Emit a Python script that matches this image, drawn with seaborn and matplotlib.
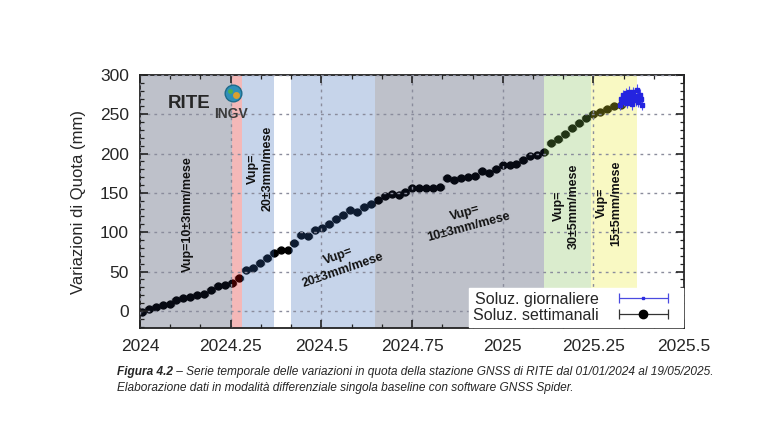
import numpy as np
import matplotlib
matplotlib.use("Agg")
import matplotlib.pyplot as plt
from matplotlib.legend_handler import HandlerErrorbar
from matplotlib.container import ErrorbarContainer
import seaborn as sns

# --- data ---
# weekly solutions (mm), one value per week starting in the first week of 2024
weekly_start = 2024.005
weekly_step = 7 / 366
weekly_vals = [-1, 2.5, 5, 7.5, 9, 14, 16, 18, 20, 22, 27, 31, 33, 36, 42,
               52, 54, 61, 67, 73, 77, 78, 86, 97, 95, 103, 105, 110, 117,
               122, 128, 126, 132, 136, 141, 146, 148, 147, 151, 156, 156,
               156, 156, 157, 169, 166, 169, 170, 172, 178, 175, 180, 185,
               185, 187, 192, 197, 198, 202, 213, 219, 225, 232, 239, 245,
               251, 253, 257, 261, 262, 267]
weekly_err_x = 0.011

# daily solutions (mm), last weeks of the series
daily_start = 2025.324
daily_step = 1 / 365
daily_vals = [262, 270, 266, 274, 268, 272, 277, 265, 271, 279, 269, 274,
              263, 278, 270, 273, 268, 281, 266, 272, 275, 270, 262]
daily_err_x = 0.006
daily_err_y = 7

# periods with constant rate
periods = [(2024.0, 2024.255), (2024.255, 2024.28), (2024.28, 2024.37),
           (2024.415, 2024.648), (2024.648, 2025.115), (2025.115, 2025.242),
           (2025.242, 2025.37)]
period_colors = ["#172142", "#db0000", "#3365b4", "#3365b4", "#172142",
                 "#7bbb4c", "#eded29"]

xticks = [2024, 2024.25, 2024.5, 2024.75, 2025, 2025.25, 2025.5]
xticklabels = ["2024", "2024.25", "2024.5", "2024.75", "2025", "2025.25", "2025.5"]
yticks = [0, 50, 100, 150, 200, 250, 300]

weekly_t = weekly_start + np.arange(len(weekly_vals)) * weekly_step
daily_t = daily_start + np.arange(len(daily_vals)) * daily_step

# --- figure ---
sns.set_style("ticks")
plt.rcParams["font.family"] = ["Liberation Sans", "DejaVu Sans"]

fig = plt.figure(figsize=(7.67, 4.25), dpi=100)
ax = fig.add_axes([0.1825, 0.228, 0.7095, 0.5955])
ax.set_axisbelow(False)

ax.errorbar(weekly_t, weekly_vals, xerr=weekly_err_x, fmt="o", ms=5,
            color="black", mec="black", ecolor="#6a6a6a", elinewidth=1.3,
            capsize=1.5, capthick=1, zorder=2)

for (a, b), c in zip(periods, period_colors):
    ax.axvspan(a, b, color=c, alpha=0.28, lw=0, zorder=2.2)

ax.errorbar(daily_t, daily_vals, xerr=daily_err_x, yerr=daily_err_y,
            fmt="s", ms=2.5, color="#2424e0", ecolor="#4f4ff0", elinewidth=0.8,
            capsize=0, zorder=2.3)

# legend proxies (horizontal bars with caps, as in the original key)
h_day = ax.errorbar([np.nan], [np.nan], xerr=[1], fmt="s", ms=2,
                    color="#2b2be0", ecolor="#4a4ae0", elinewidth=0.9,
                    capsize=3.5, capthick=0.9, label="Soluz. giornaliere")
h_week = ax.errorbar([np.nan], [np.nan], xerr=[1], fmt="o", ms=6,
                     color="black", ecolor="#333333", elinewidth=0.9,
                     capsize=3.5, capthick=0.9, label="Soluz. settimanali")

ax.set_xlim(2024, 2025.5)
ax.set_ylim(-22, 300)
ax.set_xticks(xticks)
ax.set_xticklabels(xticklabels)
ax.set_yticks(yticks)
ax.set_xticks(np.arange(2024, 2025.5, 1 / 12), minor=True)
ax.set_yticks(np.arange(-20, 300, 10), minor=True)
ax.tick_params(which="both", direction="in", top=True, right=True,
               labelsize=12.5, color="#222222")
ax.tick_params(which="major", length=6, width=1.2, pad=8)
ax.tick_params(which="minor", length=3, width=0.9)
ax.grid(True, which="major", linestyle=(0, (2, 3)), color="#8a8c9c", lw=1)
for s in ax.spines.values():
    s.set_linewidth(1.3)
    s.set_color("#222222")
ax.set_ylabel("Variazioni di Quota (mm)", fontsize=12, labelpad=10)

# station label and logo
ax.text(2024.135, 264, "RITE", fontsize=13.5, fontweight="bold",
        ha="center", va="center", zorder=4)
ax.plot([0.171], [0.928], "o", ms=12, color="#2f8fb8", mec="#1d6b8a",
        transform=ax.transAxes, zorder=4, clip_on=False)
ax.plot([0.177], [0.921], "o", ms=5, color="#d9a030", mec="none",
        transform=ax.transAxes, zorder=4, clip_on=False)
ax.plot([0.166], [0.935], "o", ms=3.5, color="#4caf50", mec="none",
        transform=ax.transAxes, zorder=4, clip_on=False)
ax.text(2024.250, 251, "INGV", fontsize=10, fontweight="bold",
        color="#3c3c3c", ha="center", va="center", zorder=4,
        family=["Liberation Sans Narrow", "Liberation Sans"])

lbl = dict(fontsize=9, fontweight="bold", ha="center", va="center",
           zorder=4, color="#111111", linespacing=1.3)
ax.text(2024.132, 123, "Vup=10±3mm/mese", rotation=90, **lbl)
ax.text(2024.331, 181, "Vup=\n20±3mm/mese", rotation=90, **lbl)
ax.text(2024.553, 60, "Vup=\n20±3mm/mese", rotation=19, **lbl)
ax.text(2024.902, 115, "Vup=\n10±3mm/mese", rotation=15, **lbl)
ax.text(2025.175, 133, "Vup=\n30±5mm/mese", rotation=90, **lbl)
ax.text(2025.293, 137, "Vup=\n15±5mm/mese", rotation=90, **lbl)

leg = ax.legend(handles=[h_day, h_week], loc="lower right",
                bbox_to_anchor=(1.0, 0.0), fontsize=11.5,
                markerfirst=False, handlelength=4.4, frameon=True,
                fancybox=False, borderpad=0.25, labelspacing=0.05,
                handletextpad=0.6, borderaxespad=0.1,
                handler_map={ErrorbarContainer: HandlerErrorbar(xerr_size=1.55)})
leg.get_frame().set_facecolor("white")
leg.get_frame().set_edgecolor("white")
leg.get_frame().set_alpha(1)
leg.set_zorder(5)

# caption
cap_font = ["Liberation Sans Narrow", "Liberation Sans", "DejaVu Sans"]
t1 = fig.text(0.152, 0.125, "Figura 4.2", fontsize=8.6, fontweight="bold",
              style="italic", family=cap_font, va="center", ha="left")
fig.canvas.draw()
bb = t1.get_window_extent().transformed(fig.transFigure.inverted())
fig.text(bb.x1, 0.125,
         " \u2013 Serie temporale delle variazioni in quota della stazione GNSS "
         "di RITE dal 01/01/2024 al 19/05/2025.",
         fontsize=8.6, style="italic", family=cap_font, va="center", ha="left")
fig.text(0.152, 0.087,
         "Elaborazione dati in modalità differenziale singola baseline con "
         "software GNSS Spider.",
         fontsize=8.6, style="italic", family=cap_font, va="center", ha="left")

fig.savefig("out.png", dpi=100)
